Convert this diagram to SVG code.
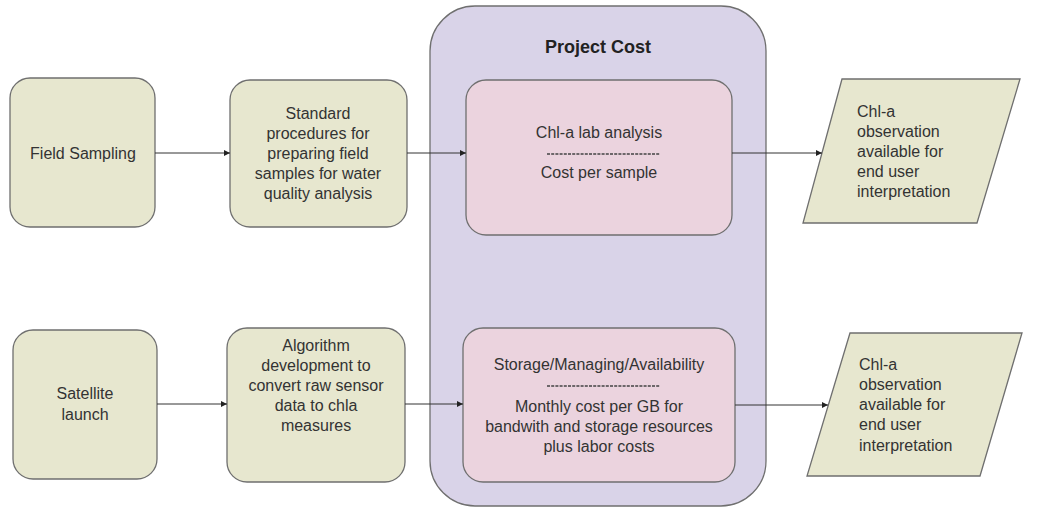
<svg xmlns="http://www.w3.org/2000/svg" width="1060" height="509" viewBox="0 0 1060 509">
<style>
  .box{fill:#e7e7cf;stroke:#6f6f6f;stroke-width:1.3}
  .cont{fill:#d9d3e8;stroke:#6f6f6f;stroke-width:1.3}
  .pink{fill:#ebd3de;stroke:#6f6f6f;stroke-width:1.3}
  .t{font-family:"Liberation Sans",Arial,sans-serif;font-size:16px;fill:#333;text-anchor:middle}
  .tl{font-family:"Liberation Sans",Arial,sans-serif;font-size:16px;fill:#333}
  .title{font-family:"Liberation Sans",Arial,sans-serif;font-size:18px;font-weight:bold;fill:#222;text-anchor:middle}
  .conn{stroke:#333;stroke-width:1;fill:none;marker-end:url(#arr)}
  .dash{stroke:#444;stroke-width:1.3;stroke-dasharray:3 1.2}
</style>
<defs>
  <marker id="arr" markerWidth="8" markerHeight="8" refX="6" refY="3" orient="auto" markerUnits="userSpaceOnUse">
    <path d="M0,0 L6,3 L0,6 Z" fill="#222"/>
  </marker>
</defs>
<rect width="1060" height="509" fill="#fff"/>

<g id="project-cost">
  <rect class="cont" x="430" y="6" width="336" height="500" rx="45" ry="45"/>
  <text class="title" x="598" y="53">Project Cost</text>
</g>

<g id="field-sampling">
  <rect class="box" x="10" y="78" width="145" height="149" rx="20" ry="20"/>
  <text class="t" x="83" y="159">Field Sampling</text>
</g>

<g id="standard-procedures">
  <rect class="box" x="230" y="80" width="177" height="147" rx="20" ry="20"/>
  <text class="t" x="318" y="119">Standard</text>
  <text class="t" x="318" y="139">procedures for</text>
  <text class="t" x="318" y="159">preparing field</text>
  <text class="t" x="318" y="179">samples for water</text>
  <text class="t" x="318" y="199">quality analysis</text>
</g>

<g id="lab-analysis">
  <rect class="pink" x="466" y="80" width="266" height="155" rx="20" ry="20"/>
  <text class="t" x="599" y="138">Chl-a lab analysis</text>
  <line class="dash" x1="547" y1="154" x2="660" y2="154"/>
  <text class="t" x="599" y="178">Cost per sample</text>
</g>

<g id="observation-1">
  <polygon class="box" points="842,79 1020,79 977,223 803,223"/>
  <text class="tl" x="857" y="117">Chl-a</text>
  <text class="tl" x="857" y="137">observation</text>
  <text class="tl" x="857" y="157">available for</text>
  <text class="tl" x="857" y="177">end user</text>
  <text class="tl" x="857" y="197">interpretation</text>
</g>

<g id="satellite-launch">
  <rect class="box" x="13" y="330" width="144" height="149" rx="20" ry="20"/>
  <text class="t" x="85" y="399">Satellite</text>
  <text class="t" x="85" y="420">launch</text>
</g>

<g id="algorithm-development">
  <rect class="box" x="227" y="328" width="178" height="154" rx="20" ry="20"/>
  <text class="t" x="316" y="351">Algorithm</text>
  <text class="t" x="316" y="371">development to</text>
  <text class="t" x="316" y="391">convert raw sensor</text>
  <text class="t" x="316" y="411">data to chla</text>
  <text class="t" x="316" y="431">measures</text>
</g>

<g id="storage">
  <rect class="pink" x="463" y="328" width="272" height="154" rx="20" ry="20"/>
  <text class="t" x="599" y="370">Storage/Managing/Availability</text>
  <line class="dash" x1="547" y1="386" x2="660" y2="386"/>
  <text class="t" x="599" y="412">Monthly cost per GB for</text>
  <text class="t" x="599" y="432">bandwith and storage resources</text>
  <text class="t" x="599" y="452">plus labor costs</text>
</g>

<g id="observation-2">
  <polygon class="box" points="850,333 1022,333 980,476 807,476"/>
  <text class="tl" x="859" y="370">Chl-a</text>
  <text class="tl" x="859" y="390">observation</text>
  <text class="tl" x="859" y="410">available for</text>
  <text class="tl" x="859" y="430">end user</text>
  <text class="tl" x="859" y="451">interpretation</text>
</g>

<g id="connectors">
  <line class="conn" x1="155" y1="153" x2="230" y2="153"/>
  <line class="conn" x1="407" y1="153" x2="466" y2="153"/>
  <line class="conn" x1="732" y1="153" x2="822" y2="153"/>
  <line class="conn" x1="157" y1="404" x2="227" y2="404"/>
  <line class="conn" x1="405" y1="404" x2="463" y2="404"/>
  <line class="conn" x1="735" y1="405" x2="828" y2="405"/>
</g>
</svg>
